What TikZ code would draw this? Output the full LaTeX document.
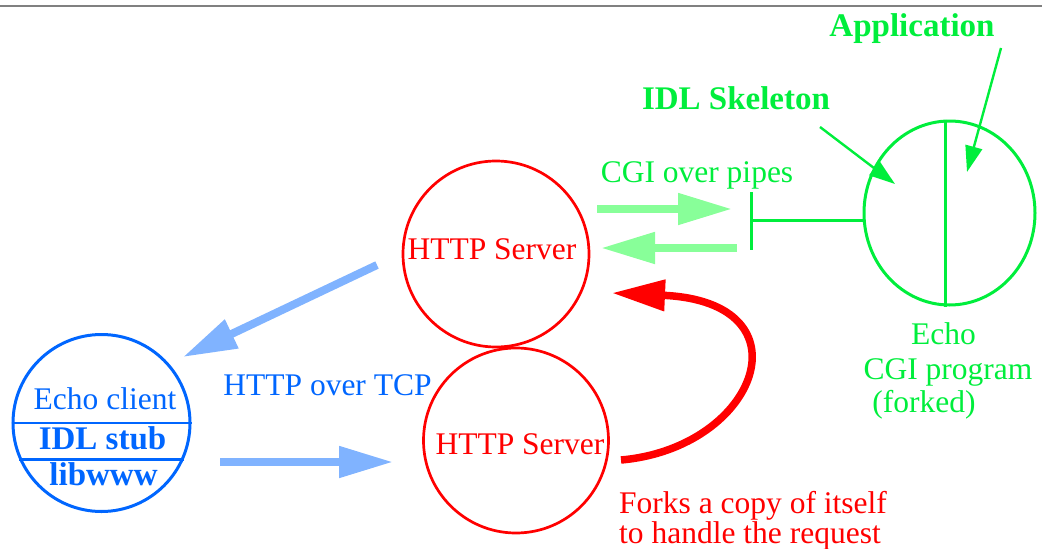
\documentclass[tikz,border=0pt]{standalone}
\usepackage{fontspec}
\setmainfont{Liberation Serif}
\usetikzlibrary{arrows.meta,shapes.geometric,calc}

\definecolor{srvred}{RGB}{255,0,0}
\definecolor{cgigreen}{RGB}{0,238,60}
\definecolor{pipegreen}{RGB}{136,255,153}
\definecolor{clientblue}{RGB}{0,102,255}
\definecolor{tcpblue}{RGB}{128,179,255}

\tikzset{
  txt/.style={inner sep=0pt, anchor=base, font=\fontsize{31.5}{34}\selectfont},
  btxt/.style={inner sep=0pt, anchor=base, font=\fontsize{33}{36}\selectfont\bfseries},
  proc/.style={circle, draw, line width=2.7pt, inner sep=0pt},
  flow/.style={line width=8pt, -{Triangle[length=54pt,width=30pt]}},
  pointer/.style={line width=2.4pt, cgigreen, -{Triangle[length=26pt,width=17pt]}},
}

\begin{document}
\begin{tikzpicture}[x=1pt,y=-1pt]
\useasboundingbox (0,0) rectangle (1042,549);

% page rule
\draw[gray, line width=1.5pt] (0,6) -- (1042,6);

% HTTP servers
\node[proc, srvred, minimum size=186pt] (srvA) at (496,254) {};
\node[proc, srvred, minimum size=185pt] (srvB) at (516,440.5) {};
\node[txt, srvred] at (492,259) {HTTP Server};
\node[txt, srvred] at (520,454) {HTTP Server};

% echo client with its layers
\node[proc, clientblue, line width=3pt, minimum size=177pt] (client) at (101.5,423) {};
\draw[clientblue, line width=2.4pt] (client.west) -- (client.east);
\draw[clientblue, line width=2.4pt] (client.204) -- (client.-24);
\node[txt, clientblue] at (105,409) {Echo client};
\node[btxt, clientblue] at (102.5,449) {IDL stub};
\node[btxt, clientblue] at (103.5,485) {libwww};

% CGI program
\node[ellipse, draw, cgigreen, line width=3pt, minimum width=171pt, minimum height=184pt, inner sep=0pt] (app) at (949.5,213) {};
\draw[cgigreen, line width=3pt] ([xshift=-4.5pt]app.north) -- ([xshift=-4.5pt]app.south);
\coordinate (bar) at (751,220);
\draw[cgigreen, line width=3pt] (751,192) -- (751,250);
\draw[cgigreen, line width=3pt] (bar) -- (bar -| app.west);
\node[txt, cgigreen] at (943.5,344) {Echo};
\node[txt, cgigreen] at (948,379) {CGI program};
\node[txt, cgigreen] at (924,412) {(forked)};

% labels pointing into the CGI program
\node[btxt, cgigreen] (applbl) at (912,36) {Application};
\node[btxt, cgigreen] (skellbl) at (736,109) {IDL Skeleton};
\coordinate (appS) at (1001,48);
\coordinate (appE) at (967,172);
\coordinate (skS) at (820,127);
\coordinate (skE) at (895,184);
\draw[pointer] (appS) -- (appE);
\draw[pointer] (skS) -- (skE);

% CGI over pipes
\node[txt, cgigreen] at (697,182) {CGI over pipes};
\coordinate (pipeAs) at (597,209);
\coordinate (pipeAe) at (732,209);
\coordinate (pipeBs) at (737,248);
\coordinate (pipeBe) at (601,248);
\draw[flow, pipegreen] (pipeAs) -- (pipeAe);
\draw[flow, pipegreen] (pipeBs) -- (pipeBe);

% HTTP over TCP
\node[txt, clientblue] at (327.5,395) {HTTP over TCP};
\coordinate (tcpAs) at (377,265);
\coordinate (tcpAe) at (183,357);
\coordinate (tcpBs) at (220,462);
\coordinate (tcpBe) at (393,462);
\draw[flow, tcpblue] (tcpAs) -- (tcpAe);
\draw[flow, tcpblue] (tcpBs) -- (tcpBe);

% fork
\coordinate (forkS) at (621,460);
\coordinate (forkE) at (612,293);
\draw[srvred, line width=7.5pt, -{Triangle[length=53pt,width=30pt]}]
  (forkS) .. controls (758,448) and (812,302) .. (forkE);
\node[txt, srvred, anchor=base west] at (619,513) {Forks a copy of itself};
\node[txt, srvred, anchor=base west] at (619,543) {to handle the request};
\end{tikzpicture}
\end{document}
